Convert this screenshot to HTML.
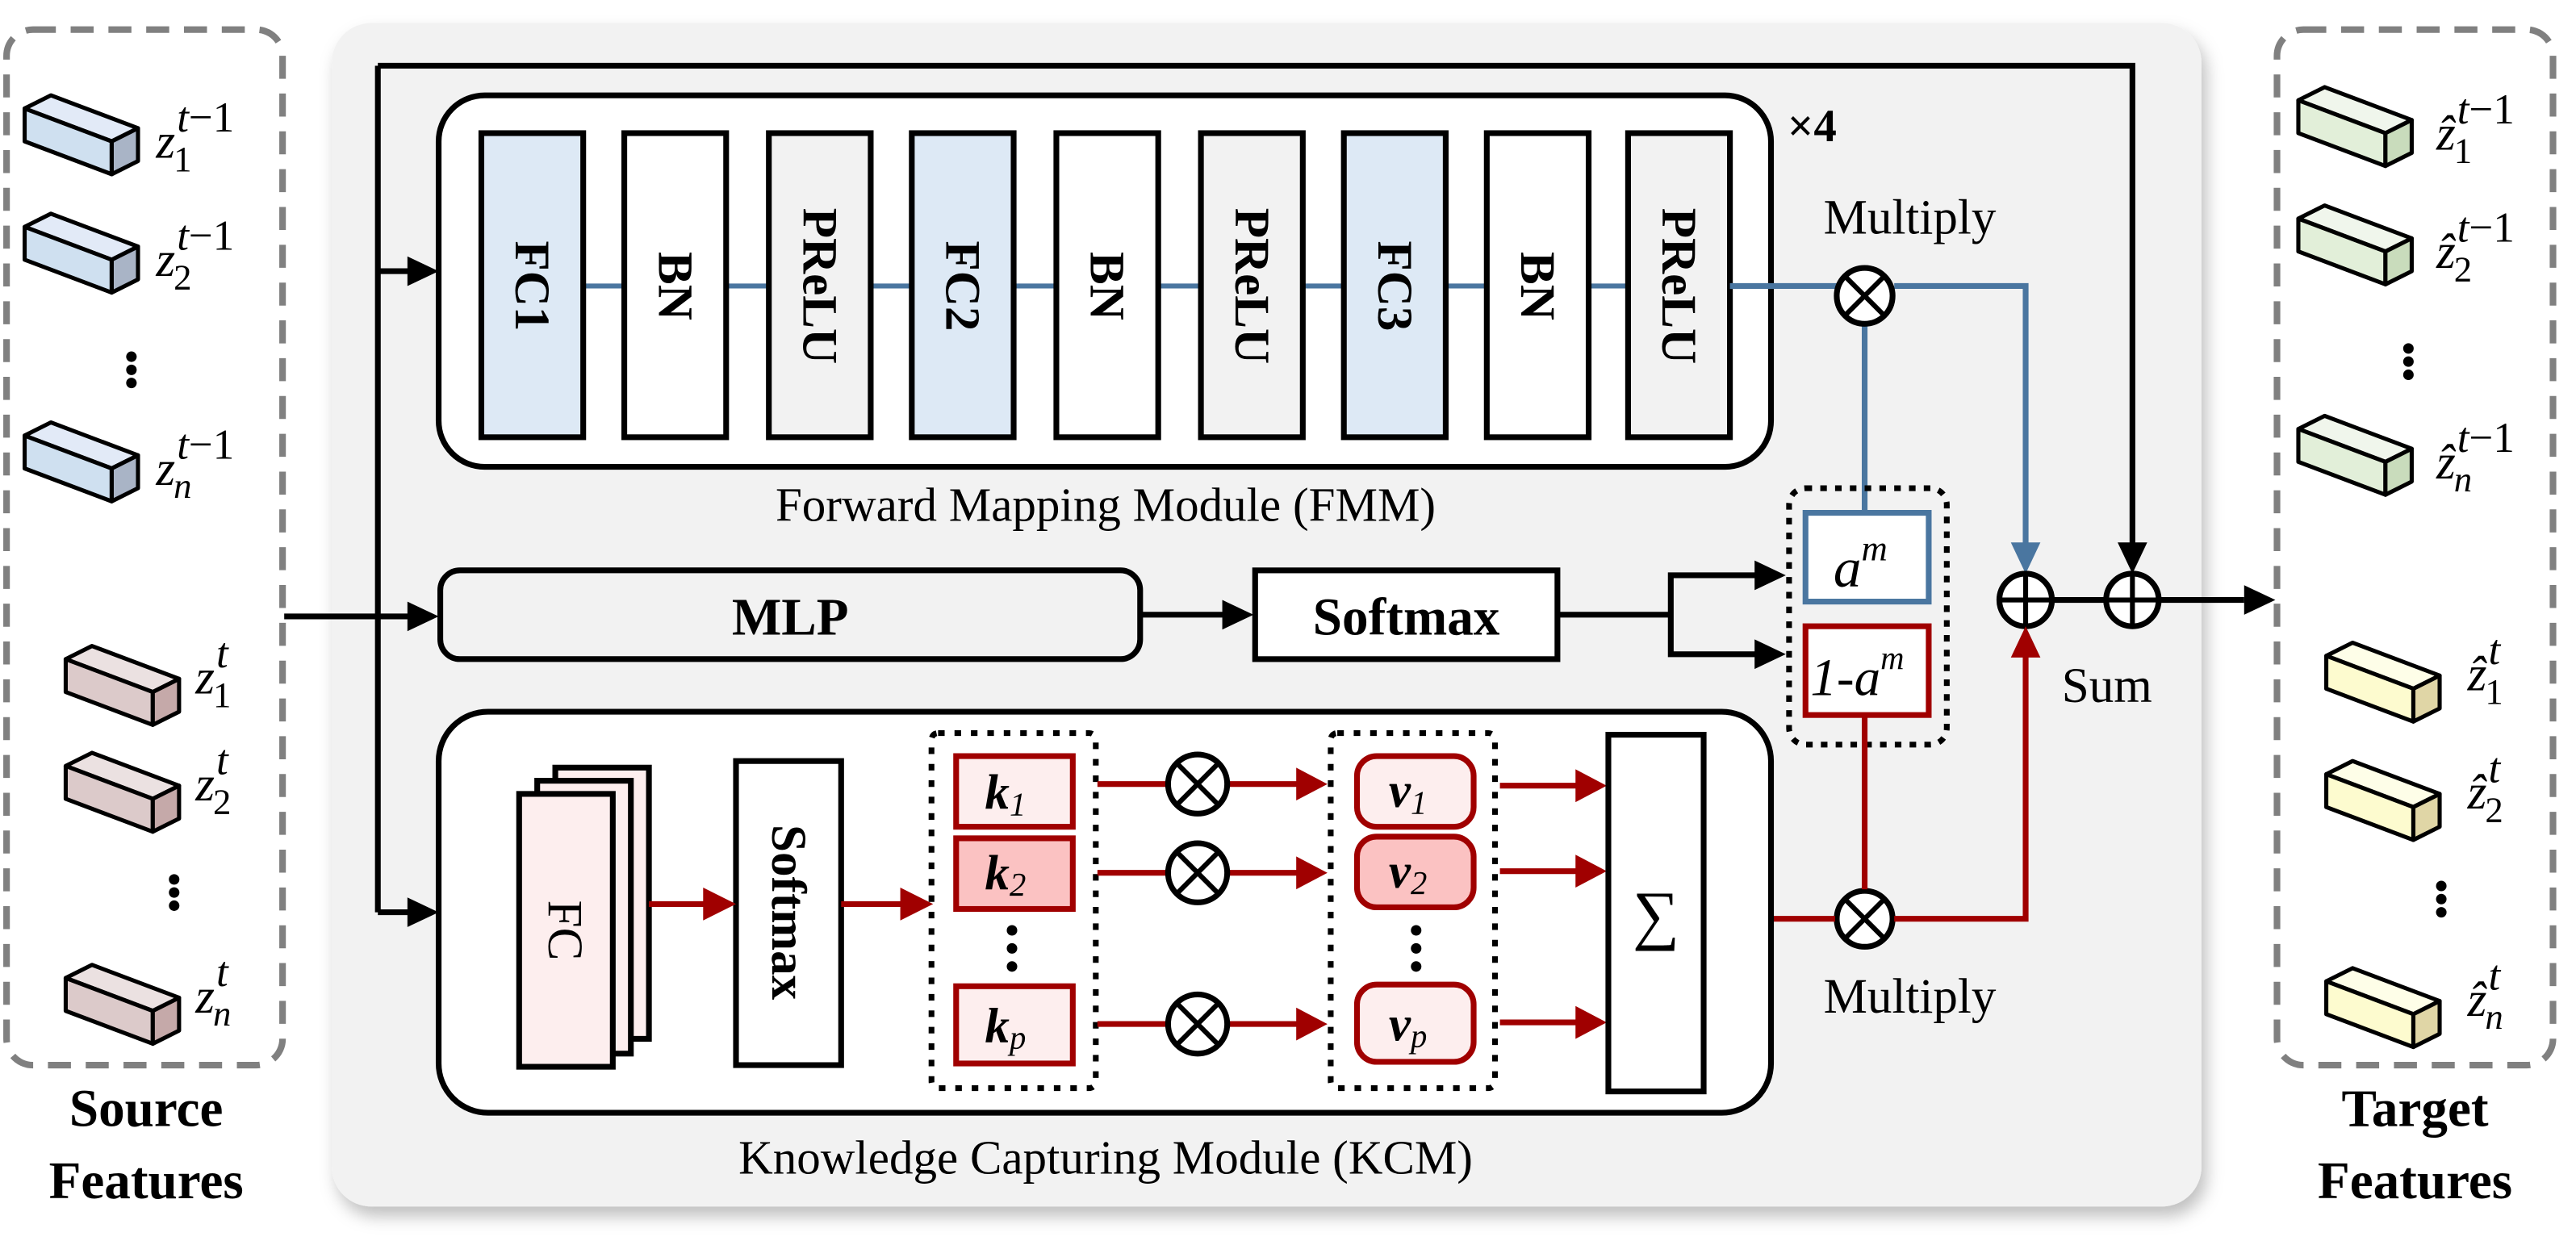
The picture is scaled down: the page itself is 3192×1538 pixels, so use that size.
<!DOCTYPE html>
<html><head><meta charset="utf-8"><style>html,body{margin:0;padding:0;background:#fff}svg{display:block}svg text{font-family:"Liberation Serif",serif}</style></head>
<body>
<svg width="3192" height="1538" viewBox="0 0 1568 755" preserveAspectRatio="none" xmlns="http://www.w3.org/2000/svg" style="font-family:'Liberation Serif',serif">
<defs>
<filter id="sh" x="-5%" y="-5%" width="110%" height="115%"><feDropShadow dx="3" dy="6" stdDeviation="5" flood-color="#000" flood-opacity="0.25"/></filter>
<g id="cube" stroke="#000" stroke-width="2.5" stroke-linejoin="round"><path d="M0,0 L16,-8 L69,12 L53,20 Z" style="fill:var(--t)"/><path d="M0,0 L53,20 L53,40 L0,20 Z" style="fill:var(--f)"/><path d="M53,20 L69,12 L69,32 L53,40 Z" style="fill:var(--s)"/></g>
</defs>
<style>
.blue{--t:#e2eaf7;--f:#cfe0f0;--s:#a9b4c6}
.pink{--t:#ebe1e1;--f:#dccaca;--s:#c5a9a9}
.green{--t:#f0f6ec;--f:#e2efd9;--s:#c9dcbc}
.yel{--t:#fefee8;--f:#fdfbcf;--s:#e0d6a6}
.lbl{font-style:italic;font-size:30px}
</style>

<rect x="202" y="14" width="1138" height="720" rx="24" fill="#f2f2f2" filter="url(#sh)"/>

<rect x="4" y="18" width="168" height="630" rx="16" fill="#fff" stroke="#808080" stroke-width="4" stroke-dasharray="14,9"/>
<rect x="1386" y="18" width="168" height="630" rx="16" fill="#fff" stroke="#808080" stroke-width="4" stroke-dasharray="14,9"/>

<g class="blue"><use href="#cube" x="15" y="66"/><use href="#cube" x="15" y="138"/><use href="#cube" x="15" y="265"/></g>
<g class="pink"><use href="#cube" x="40" y="401"/><use href="#cube" x="40" y="466"/><use href="#cube" x="40" y="595"/></g>
<g class="green"><use href="#cube" x="1399" y="61"/><use href="#cube" x="1399" y="133"/><use href="#cube" x="1399" y="261"/></g>
<g class="yel"><use href="#cube" x="1416" y="399"/><use href="#cube" x="1416" y="471"/><use href="#cube" x="1416" y="597"/></g>

<g class="lbl">
<text x="95" y="96">z<tspan font-size="22" dx="-1" dy="8" font-style="normal">1</tspan><tspan font-size="26" dx="-9" dy="-24">t</tspan><tspan font-size="26" font-style="normal">−1</tspan></text>
<text x="95" y="168">z<tspan font-size="22" dx="-1" dy="8" font-style="normal">2</tspan><tspan font-size="26" dx="-9" dy="-24">t</tspan><tspan font-size="26" font-style="normal">−1</tspan></text>
<text x="95" y="295">z<tspan font-size="22" dx="-1" dy="8">n</tspan><tspan font-size="26" dx="-9" dy="-24">t</tspan><tspan font-size="26" font-style="normal">−1</tspan></text>
<text x="119" y="422">z<tspan font-size="22" dx="-1" dy="8" font-style="normal">1</tspan><tspan font-size="26" dx="-9" dy="-24">t</tspan></text>
<text x="119" y="487">z<tspan font-size="22" dx="-1" dy="8" font-style="normal">2</tspan><tspan font-size="26" dx="-9" dy="-24">t</tspan></text>
<text x="119" y="616">z<tspan font-size="22" dx="-1" dy="8">n</tspan><tspan font-size="26" dx="-9" dy="-24">t</tspan></text>
<text x="1483" y="91">ẑ<tspan font-size="22" dx="-1" dy="8" font-style="normal">1</tspan><tspan font-size="26" dx="-9" dy="-24">t</tspan><tspan font-size="26" font-style="normal">−1</tspan></text>
<text x="1483" y="163">ẑ<tspan font-size="22" dx="-1" dy="8" font-style="normal">2</tspan><tspan font-size="26" dx="-9" dy="-24">t</tspan><tspan font-size="26" font-style="normal">−1</tspan></text>
<text x="1483" y="291">ẑ<tspan font-size="22" dx="-1" dy="8">n</tspan><tspan font-size="26" dx="-9" dy="-24">t</tspan><tspan font-size="26" font-style="normal">−1</tspan></text>
<text x="1502" y="420">ẑ<tspan font-size="22" dx="-1" dy="8" font-style="normal">1</tspan><tspan font-size="26" dx="-9" dy="-24">t</tspan></text>
<text x="1502" y="492">ẑ<tspan font-size="22" dx="-1" dy="8" font-style="normal">2</tspan><tspan font-size="26" dx="-9" dy="-24">t</tspan></text>
<text x="1502" y="618">ẑ<tspan font-size="22" dx="-1" dy="8">n</tspan><tspan font-size="26" dx="-9" dy="-24">t</tspan></text>
</g>
<g fill="#000"><circle cx="80" cy="217" r="3.2"/><circle cx="80" cy="225" r="3.2"/><circle cx="80" cy="233" r="3.2"/>
<circle cx="106" cy="535" r="3.2"/><circle cx="106" cy="543" r="3.2"/><circle cx="106" cy="551" r="3.2"/>
<circle cx="1466" cy="212" r="3.2"/><circle cx="1466" cy="220" r="3.2"/><circle cx="1466" cy="228" r="3.2"/>
<circle cx="1486" cy="539" r="3.2"/><circle cx="1486" cy="547" r="3.2"/><circle cx="1486" cy="555" r="3.2"/></g>

<g font-weight="bold" font-size="32" text-anchor="middle">
<text x="89" y="685">Source</text><text x="89" y="729">Features</text>
<text x="1470" y="685">Target</text><text x="1470" y="729">Features</text>
</g>

<g stroke="#000" stroke-width="3.5" fill="none">
<polyline points="230,40 1298,40 1298,338"/>
<line x1="230" y1="40" x2="230" y2="555"/>
<line x1="230" y1="165" x2="250" y2="165"/>
<line x1="173" y1="375" x2="250" y2="375"/>
<line x1="230" y1="555" x2="250" y2="555"/>
<line x1="695" y1="374" x2="745" y2="374"/>
<polyline points="949,374 1017,374"/>
<polyline points="1070,350 1017,350 1017,398 1070,398"/>
<line x1="1248" y1="365" x2="1281" y2="365"/>
<line x1="1314" y1="365" x2="1366" y2="365"/>
</g>
<g fill="#000">
<polygon points="248,156 267,165 248,174"/>
<polygon points="248,366 267,375 248,384"/>
<polygon points="248,546 267,555 248,564"/>
<polygon points="744,365 763,374 744,383"/>
<polygon points="1068,341 1087,350 1068,359"/>
<polygon points="1068,389 1087,398 1068,407"/>
<polygon points="1289,330 1298,349 1307,330"/>
<polygon points="1366,356 1385,365 1366,374"/>
</g>

<rect x="267" y="58" width="811" height="226" rx="28" fill="#fff" stroke="#000" stroke-width="3.5"/>
<line x1="355" y1="174" x2="990" y2="174" stroke="#4a76a0" stroke-width="3"/>
<g stroke="#000" stroke-width="3.5">
<rect x="293" y="81" width="62" height="185" fill="#dde9f5"/>
<rect x="380" y="81" width="62" height="185" fill="#fff"/>
<rect x="468" y="81" width="62" height="185" fill="#f2f2f2"/>
<rect x="555" y="81" width="62" height="185" fill="#dde9f5"/>
<rect x="643" y="81" width="62" height="185" fill="#fff"/>
<rect x="731" y="81" width="62" height="185" fill="#f2f2f2"/>
<rect x="818" y="81" width="62" height="185" fill="#dde9f5"/>
<rect x="905" y="81" width="62" height="185" fill="#fff"/>
<rect x="991" y="81" width="62" height="185" fill="#f2f2f2"/>
</g>
<g font-weight="bold" font-size="30" text-anchor="middle">
<text transform="translate(314,174) rotate(90)">FC1</text>
<text transform="translate(401,174) rotate(90)">BN</text>
<text transform="translate(489,174) rotate(90)">PReLU</text>
<text transform="translate(576,174) rotate(90)">FC2</text>
<text transform="translate(664,174) rotate(90)">BN</text>
<text transform="translate(752,174) rotate(90)">PReLU</text>
<text transform="translate(839,174) rotate(90)">FC3</text>
<text transform="translate(926,174) rotate(90)">BN</text>
<text transform="translate(1012,174) rotate(90)">PReLU</text>
</g>
<text x="1088" y="86" font-size="28" font-weight="bold">×4</text>
<text x="1110" y="142" font-size="30">Multiply</text>
<text x="673" y="317" font-size="29" text-anchor="middle">Forward Mapping Module (FMM)</text>

<g stroke="#4a76a0" stroke-width="3.5" fill="none">
<line x1="1053" y1="174" x2="1118" y2="174"/>
<polyline points="1153,174 1233,174 1233,332"/>
<line x1="1135" y1="198" x2="1135" y2="311"/>
</g>
<polygon points="1224,330 1233,349 1242,330" fill="#4a76a0"/>

<g stroke="#000" stroke-width="3.5" fill="#fff">
<circle cx="1135" cy="180" r="17"/>
<circle cx="1135" cy="559" r="17"/>
</g>
<g stroke="#000" stroke-width="3">
<path d="M1123,168 L1147,192 M1147,168 L1123,192"/>
<path d="M1123,547 L1147,571 M1147,547 L1123,571"/>
</g>

<rect x="268" y="347" width="426" height="54" rx="12" fill="#f2f2f2" stroke="#000" stroke-width="3.5"/>
<text x="481" y="386" font-size="32" font-weight="bold" text-anchor="middle">MLP</text>
<rect x="764" y="347" width="184" height="54" fill="#fff" stroke="#000" stroke-width="3.5"/>
<text x="856" y="386" font-size="32" font-weight="bold" text-anchor="middle">Softmax</text>

<rect x="1089" y="297" width="96" height="156" rx="10" fill="none" stroke="#000" stroke-width="3.5" stroke-dasharray="4,5"/>
<rect x="1099" y="312" width="75" height="54" fill="#fff" stroke="#4a76a0" stroke-width="3.5"/>
<rect x="1099" y="381" width="75" height="54" fill="#fff" stroke="#a00000" stroke-width="3.5"/>
<text x="1116" y="357" font-size="34" font-style="italic">a<tspan font-size="22" dy="-16">m</tspan></text>
<text x="1102" y="423" font-size="32" font-style="italic">1-a<tspan font-size="20" dy="-16">m</tspan></text>

<g stroke="#000" stroke-width="3.5" fill="#fff">
<circle cx="1233" cy="365" r="16"/><circle cx="1298" cy="365" r="16"/>
</g>
<g stroke="#000" stroke-width="3"><path d="M1217,365 H1249 M1233,349 V381 M1282,365 H1314 M1298,349 V381"/></g>
<text x="1255" y="427" font-size="30">Sum</text>
<text x="1110" y="616" font-size="30">Multiply</text>

<g stroke="#a00000" stroke-width="3.5" fill="none">
<line x1="1135" y1="435" x2="1135" y2="541"/>
<line x1="1037" y1="559" x2="1117" y2="559"/>
<polyline points="1153,559 1233,559 1233,398"/>
</g>
<polygon points="1224,400 1233,381 1242,400" fill="#a00000"/>

<rect x="267" y="433" width="811" height="244" rx="30" fill="#fff" stroke="#000" stroke-width="3.5"/>
<text x="673" y="714" font-size="29" text-anchor="middle">Knowledge Capturing Module (KCM)</text>
<g stroke="#000" stroke-width="3.5" fill="#fdeeee">
<rect x="338" y="467" width="57" height="165"/>
<rect x="327" y="475" width="57" height="166"/>
<rect x="316" y="483" width="57" height="166"/>
</g>
<text transform="translate(334,566) rotate(90)" font-size="30" text-anchor="middle">FC</text>
<rect x="448" y="463" width="64" height="185" fill="#fff" stroke="#000" stroke-width="3.5"/>
<text transform="translate(470,555) rotate(90)" font-size="30" font-weight="bold" text-anchor="middle">Softmax</text>
<g stroke="#a00000" stroke-width="3.5">
<line x1="395" y1="550" x2="430" y2="550"/>
<line x1="512" y1="550" x2="550" y2="550"/>
</g>
<g fill="#a00000">
<polygon points="428,540 448,550 428,560"/>
<polygon points="548,540 568,550 548,560"/>
</g>
<rect x="567" y="446" width="100" height="216" rx="4" fill="none" stroke="#000" stroke-width="3.5" stroke-dasharray="4,6"/>
<rect x="810" y="446" width="100" height="216" rx="4" fill="none" stroke="#000" stroke-width="3.5" stroke-dasharray="4,6"/>
<g stroke="#a00000" stroke-width="3.5">
<rect x="582" y="460" width="71" height="43" fill="#fdeeee"/>
<rect x="582" y="510" width="71" height="43" fill="#fbc2c2"/>
<rect x="582" y="600" width="71" height="47" fill="#fdeeee"/>
<rect x="826" y="460" width="71" height="43" rx="12" fill="#fdeeee"/>
<rect x="826" y="509" width="71" height="43" rx="12" fill="#fbc2c2"/>
<rect x="826" y="599" width="71" height="47" rx="12" fill="#fdeeee"/>
</g>
<g font-size="30" font-style="italic" font-weight="bold" text-anchor="middle">
<text x="612" y="492">k<tspan font-size="20" font-weight="normal" dy="4">1</tspan></text>
<text x="612" y="541">k<tspan font-size="20" font-weight="normal" dy="4">2</tspan></text>
<text x="612" y="634">k<tspan font-size="20" font-weight="normal" dy="4">p</tspan></text>
<text x="857" y="491">v<tspan font-size="20" font-weight="normal" dy="4">1</tspan></text>
<text x="857" y="540">v<tspan font-size="20" font-weight="normal" dy="4">2</tspan></text>
<text x="857" y="633">v<tspan font-size="20" font-weight="normal" dy="4">p</tspan></text>
</g>
<g fill="#000"><circle cx="616" cy="566" r="3.2"/><circle cx="616" cy="577" r="3.2"/><circle cx="616" cy="588" r="3.2"/>
<circle cx="862" cy="566" r="3.2"/><circle cx="862" cy="577" r="3.2"/><circle cx="862" cy="588" r="3.2"/></g>
<g stroke="#a00000" stroke-width="3.5">
<line x1="668" y1="477" x2="790" y2="477"/><line x1="668" y1="531" x2="790" y2="531"/><line x1="668" y1="623" x2="790" y2="623"/>
<line x1="913" y1="478" x2="960" y2="478"/><line x1="913" y1="530" x2="960" y2="530"/><line x1="913" y1="622" x2="960" y2="622"/>
</g>
<g fill="#a00000">
<polygon points="789,467 808,477 789,487"/><polygon points="789,521 808,531 789,541"/><polygon points="789,613 808,623 789,633"/>
<polygon points="959,468 978,478 959,488"/><polygon points="959,520 978,530 959,540"/><polygon points="959,612 978,622 959,632"/>
</g>
<g stroke="#000" stroke-width="3.5" fill="#fff">
<circle cx="729" cy="477" r="18"/><circle cx="729" cy="531" r="18"/><circle cx="729" cy="623" r="18"/>
</g>
<g stroke="#000" stroke-width="3">
<path d="M716,464 L742,490 M742,464 L716,490"/>
<path d="M716,518 L742,544 M742,518 L716,544"/>
<path d="M716,610 L742,636 M742,610 L716,636"/>
</g>
<rect x="979" y="447" width="58" height="217" fill="#fff" stroke="#000" stroke-width="3.5"/>
<text x="1008" y="570" font-size="40" text-anchor="middle">∑</text>
</svg>
</body></html>
